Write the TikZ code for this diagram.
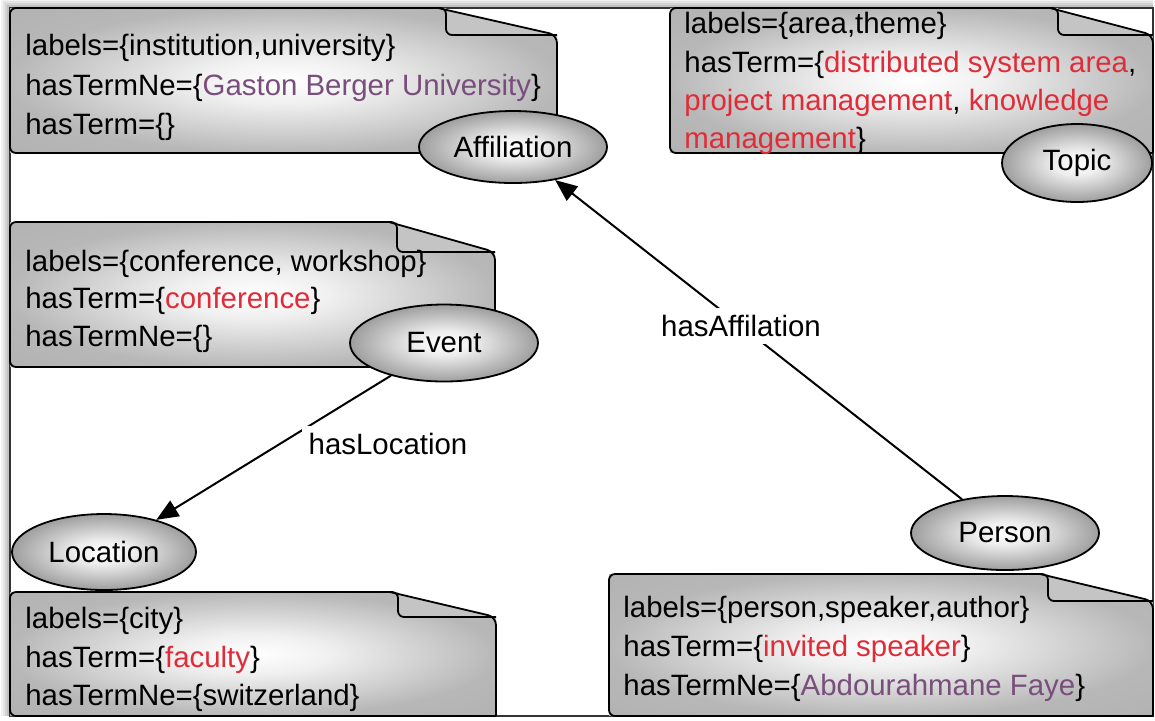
\documentclass[tikz,border=0pt]{standalone}
\usepackage{fontspec}
\setmainfont{Liberation Sans}
\usetikzlibrary{shapes.geometric,arrows.meta}
\definecolor{termred}{RGB}{224,44,56}
\definecolor{nepurple}{RGB}{122,78,124}
\definecolor{flapgray}{RGB}{196,196,196}
\pgfdeclareradialshading{noteshade}{\pgfpoint{0bp}{0bp}}{color(0bp)=(white); color(8bp)=(white!94!black); color(25bp)=(black!28); color(40bp)=(black!31)}
\pgfdeclareradialshading{ovalshade}{\pgfpoint{0bp}{0bp}}{color(0bp)=(white); color(8bp)=(white!93!black); color(25bp)=(black!38); color(40bp)=(black!42)}
\newcommand\docnote[6]{%
  \pgfmathsetmacro\nFi{#5+8}%
  \pgfmathsetmacro\nD{#2+#6}%
  \shade[shading=noteshade] (#1,#2) -- (\nFi,#2) -- (\nFi,\nD) -- (#3,\nD) -- (#3,#4) -- (#1,#4) -- cycle;
  \fill[flapgray] (#5,#2) -- (#3,\nD) -- (\nFi,\nD) -- (\nFi,#2) -- cycle;
  \draw[noteline, rounded corners=3pt] (#3,#4) -- (#1,#4) -- (#1,#2) -- (\nFi,#2) -- (\nFi,\nD) -- (#3,\nD);
  \draw[noteline, rounded corners=4pt] (#5,#2) -- (#3,\nD) -- (#3,#4);
}
\begin{document}
\begin{tikzpicture}[x=0.5pt,y=-0.5pt,
  noteline/.style={draw=black, line width=0.9pt},
  txt/.style={font=\fontsize{14.7pt}{19pt}\selectfont, inner sep=0pt, anchor=base west},
  oval/.style={ellipse, draw=black, line width=0.9pt, shade, shading=ovalshade, inner sep=0pt,
    font=\fontsize{14.7pt}{19pt}\selectfont},
  conn/.style={-{Triangle[length=11pt,width=9pt]}, line width=1pt},
  lbl/.style={fill=white, inner sep=3.5pt, font=\fontsize{14.7pt}{19pt}\selectfont}]
\useasboundingbox (0,0) rectangle (1155,720);
% frame with soft shadow
\foreach \s/\o in {9/0.05,7/0.06,5/0.07,3/0.09}
  \fill[black,opacity=\o] (10-\s,8-\s) rectangle (1153,716);
\fill[white] (10,8) rectangle (1153,716);
\draw[black!80, line width=1pt] (10,8) rectangle (1153,716);
% notes
\docnote{10}{8}{557}{153}{438}{27}
\docnote{670}{8}{1153}{153}{1050}{27}
\docnote{10}{222}{495}{367}{389}{30}
\docnote{10}{592}{496}{716}{390}{25}
\docnote{609}{574}{1153}{716}{1040}{27}
% note texts
\node[txt] (a1) at (25,55) {labels=\{institution,university\}};
\node[txt] (a2) at (25,95) {hasTermNe=\{\textcolor{nepurple}{Gaston Berger University}\}};
\node[txt] (a3) at (25,134) {hasTerm=\{\}};
\node[txt] (t1) at (684,33) {labels=\{area,theme\}};
\node[txt] (t2) at (684,72) {hasTerm=\{\textcolor{termred}{distributed system area},};
\node[txt] (t3) at (684,110) {\textcolor{termred}{project management}, \textcolor{termred}{knowledge}};
\node[txt] (t4) at (684,148) {\textcolor{termred}{management}\}};
\node[txt] (e1) at (25,271) {labels=\{conference, workshop\}};
\node[txt] (e2) at (25,308) {hasTerm=\{\textcolor{termred}{conference}\}};
\node[txt] (e3) at (25,346) {hasTermNe=\{\}};
\node[txt] (l1) at (25,628) {labels=\{city\}};
\node[txt] (l2) at (25,667) {hasTerm=\{\textcolor{termred}{faculty}\}};
\node[txt] (l3) at (25,705) {hasTermNe=\{switzerland\}};
\node[txt] (p1) at (623,617) {labels=\{person,speaker,author\}};
\node[txt] (p2) at (623,656) {hasTerm=\{\textcolor{termred}{invited speaker}\}};
\node[txt] (p3) at (623,695) {hasTermNe=\{\textcolor{nepurple}{Abdourahmane Faye}\}};
% ellipses
\node[oval, minimum width=94pt, minimum height=36pt] (affil) at (513,147) {Affiliation};
\node[oval, minimum width=75pt, minimum height=39pt] (topic) at (1077,163) {Topic};
\node[oval, minimum width=94pt, minimum height=38.5pt] (event) at (444,343) {Event};
\node[oval, minimum width=92pt, minimum height=38pt] (location) at (104,552) {Location};
\node[oval, minimum width=94pt, minimum height=37pt] (person) at (1005,533) {Person};
% connectors
\draw[conn] (person) -- (affil);
\draw[conn] (event) -- (location);
\node[lbl] (lblaff) at (741,326) {hasAffilation};
\node[lbl] (lblloc) at (388,444) {hasLocation};
\end{tikzpicture}
\end{document}
